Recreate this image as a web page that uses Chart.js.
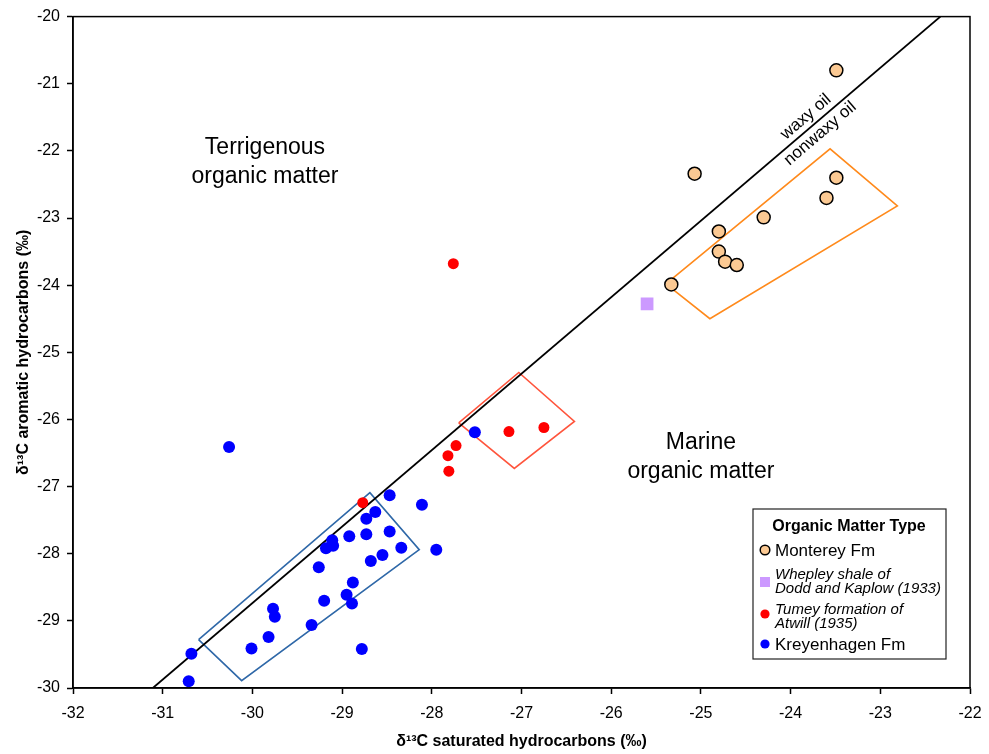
<!DOCTYPE html>
<html>
<head>
<meta charset="utf-8">
<script src="https://cdn.jsdelivr.net/npm/chart.js@4.4.0/dist/chart.umd.min.js"></script>
<style>
  html, body { margin: 0; padding: 0; background: #fff; }
  #wrap { width: 989px; height: 754px; }
</style>
</head>
<body>
<div id="wrap"><canvas id="isotopos"></canvas></div>
<script>
// [δ13C saturados, δ13C aromáticos] por muestra
const monterey = [[-23.49,-20.80],[-25.07,-22.34],[-23.49,-22.40],[-23.60,-22.70],[-24.30,-22.99],
  [-24.80,-23.20],[-24.80,-23.50],[-24.73,-23.65],[-24.60,-23.70],[-25.33,-23.99]];
const whepley = [[-25.60,-24.28]];
const tumey = [[-27.76,-23.68],[-28.77,-27.24],[-27.73,-26.39],[-27.82,-26.54],[-27.81,-26.77],
  [-27.14,-26.18],[-26.75,-26.12]];
const kreyenhagen = [[-30.26,-26.41],[-28.47,-27.13],[-28.11,-27.27],[-28.63,-27.38],[-28.73,-27.48],
  [-28.73,-27.71],[-28.47,-27.67],[-28.92,-27.74],[-29.11,-27.80],[-29.10,-27.88],[-29.18,-27.92],
  [-28.34,-27.91],[-27.95,-27.94],[-28.55,-28.02],[-28.68,-28.11],[-29.26,-28.20],[-28.88,-28.43],
  [-28.95,-28.61],[-29.20,-28.70],[-28.89,-28.74],[-29.77,-28.82],[-29.75,-28.94],[-29.34,-29.06],
  [-29.82,-29.24],[-30.01,-29.41],[-28.78,-29.42],[-30.68,-29.49],[-30.71,-29.90],[-27.52,-26.19]];

// envolventes de cada grupo
const envMonterey = [[-25.39,-23.98],[-23.56,-21.97],[-22.81,-22.82],[-24.90,-24.50]];
const envTumey = [[-27.70,-26.05],[-27.03,-25.30],[-26.41,-26.03],[-27.08,-26.73]];
const envKreyenhagen = [[-30.60,-29.28],[-28.69,-27.09],[-28.14,-27.94],[-30.12,-29.89]];

// recta waxy / nonwaxy (Sofer)
const soferLine = [[-31.11,-30],[-22.33,-20]];

const xTicks = [-32,-31,-30,-29,-28,-27,-26,-25,-24,-23,-22];
const yTicks = [-30,-29,-28,-27,-26,-25,-24,-23,-22,-21,-20];

const FUENTE = "'Liberation Sans', Arial, sans-serif";

const pts = a => a.map(([x, y]) => ({ x, y }));
const cerrado = a => pts(a.concat([a[0]]));

const linea = (data, color, width) => ({
  data, showLine: true, fill: false, borderColor: color, borderWidth: width,
  pointRadius: 0, order: 2, tension: 0
});

// marco completo del área de trazado
const marco = {
  id: 'marco',
  afterDatasetsDraw(chart) {
    const { ctx, chartArea: a } = chart;
    ctx.save();
    ctx.strokeStyle = '#000';
    ctx.lineWidth = 1.5;
    ctx.strokeRect(a.left, a.top, a.right - a.left, a.bottom - a.top);
    ctx.restore();
  }
};

// textos dentro del gráfico
const rotulos = {
  id: 'rotulos',
  afterDatasetsDraw(chart) {
    const { ctx, scales: { x, y } } = chart;
    ctx.save();
    ctx.fillStyle = '#000';
    ctx.textAlign = 'center';
    ctx.textBaseline = 'alphabetic';
    ctx.font = '23px ' + FUENTE;
    let px = x.getPixelForValue(-29.86), py = y.getPixelForValue(-22.04);
    ctx.fillText('Terrigenous', px, py);
    ctx.fillText('organic matter', px, py + 29);
    px = x.getPixelForValue(-25.0); py = y.getPixelForValue(-26.44);
    ctx.fillText('Marine', px, py);
    ctx.fillText('organic matter', px, py + 29);

    // etiquetas a lo largo de la recta
    const x0 = x.getPixelForValue(soferLine[0][0]), y0 = y.getPixelForValue(soferLine[0][1]);
    const x1 = x.getPixelForValue(soferLine[1][0]), y1 = y.getPixelForValue(soferLine[1][1]);
    const ang = Math.atan2(y1 - y0, x1 - x0);
    const t = (-23.75 - soferLine[0][0]) / (soferLine[1][0] - soferLine[0][0]);
    const bx = x0 + (x1 - x0) * t, by = y0 + (y1 - y0) * t;
    const nx = Math.sin(ang), ny = -Math.cos(ang);
    ctx.font = '17px ' + FUENTE;
    ctx.textBaseline = 'middle';
    [['waxy oil', 11], ['nonwaxy oil', -11]].forEach(([txt, d]) => {
      ctx.save();
      ctx.translate(bx + nx * d, by + ny * d);
      ctx.rotate(ang);
      ctx.fillText(txt, 0, 0);
      ctx.restore();
    });
    ctx.restore();
  }
};

// leyenda con etiquetas de varias líneas
const leyenda = {
  id: 'leyenda',
  afterDraw(chart) {
    const { ctx, chartArea: a } = chart;
    const ds = chart.data.datasets;
    const left = a.right - 217, top = a.bottom - 179, w = 193, h = 150;
    ctx.save();
    ctx.fillStyle = '#fff';
    ctx.fillRect(left, top, w, h);
    ctx.strokeStyle = '#222';
    ctx.lineWidth = 1.2;
    ctx.strokeRect(left, top, w, h);
    ctx.fillStyle = '#000';
    ctx.textAlign = 'center';
    ctx.font = 'bold 16px ' + FUENTE;
    ctx.fillText('Organic Matter Type', left + 96, top + 22);

    const items = [
      { ds: ds[0], lines: ['Monterey Fm'], font: '17px ', my: 41, base: [47] },
      { ds: ds[1], lines: ['Whepley shale of', 'Dodd and Kaplow (1933)'], font: 'italic 15px ', my: 73, base: [70, 84] },
      { ds: ds[2], lines: ['Tumey formation of', 'Atwill (1935)'], font: 'italic 15px ', my: 105, base: [105, 119] },
      { ds: ds[3], lines: ['Kreyenhagen Fm'], font: '17px ', my: 135, base: [141] }
    ];
    ctx.textAlign = 'left';
    items.forEach(it => {
      const cx = left + 12, cy = top + it.my;
      ctx.fillStyle = it.ds.backgroundColor;
      ctx.beginPath();
      if (it.ds.pointStyle === 'rect') {
        ctx.rect(cx - 5, cy - 5, 10, 10);
        ctx.fill();
      } else {
        ctx.arc(cx, cy, it.ds.borderWidth ? 4.8 : 4.6, 0, Math.PI * 2);
        ctx.fill();
        if (it.ds.borderWidth) {
          ctx.strokeStyle = it.ds.borderColor;
          ctx.lineWidth = 1.5;
          ctx.stroke();
        }
      }
      ctx.fillStyle = '#000';
      ctx.font = it.font + FUENTE;
      it.lines.forEach((l, i) => ctx.fillText(l, left + 22, top + it.base[i]));
    });
    ctx.restore();
  }
};

const ejeComun = {
  type: 'linear',
  grid: { display: true, drawOnChartArea: false, drawTicks: true, tickLength: 6, tickColor: '#000', tickWidth: 1.5 },
  border: { display: true, color: '#000', width: 1.5 },
  ticks: { color: '#000', font: { family: FUENTE, size: 16 }, callback: v => String(v) }
};

new Chart(document.getElementById('isotopos'), {
  type: 'scatter',
  data: {
    datasets: [
      { label: 'Monterey Fm', data: pts(monterey), backgroundColor: '#fbc993', borderColor: '#000',
        borderWidth: 1.5, pointRadius: 6.5, order: 0 },
      { label: 'Whepley shale of Dodd and Kaplow (1933)', data: pts(whepley), pointStyle: 'rect',
        backgroundColor: '#cc99ff', borderColor: '#cc99ff', borderWidth: 0, pointRadius: 9, order: 0 },
      { label: 'Tumey formation of Atwill (1935)', data: pts(tumey), backgroundColor: '#ff0000',
        borderColor: '#ff0000', borderWidth: 0, pointRadius: 5.5, order: 0 },
      { label: 'Kreyenhagen Fm', data: pts(kreyenhagen), backgroundColor: '#0000ff',
        borderColor: '#0000ff', borderWidth: 0, pointRadius: 6, order: 1 },
      linea(pts(soferLine), '#000', 1.8),
      linea(cerrado(envMonterey), '#ff8a1c', 1.6),
      linea(cerrado(envTumey), '#ff553d', 1.6),
      linea(cerrado(envKreyenhagen), '#2f68a8', 1.6)
    ]
  },
  options: {
    responsive: true,
    maintainAspectRatio: false,
    animation: false,
    events: [],
    layout: { padding: { top: 15, right: 19, left: 0, bottom: 0 } },
    plugins: { legend: { display: false }, tooltip: { enabled: false } },
    scales: {
      x: {
        ...ejeComun,
        min: -32, max: -22,
        ticks: { ...ejeComun.ticks, padding: 10 },
        afterBuildTicks: s => { s.ticks = xTicks.map(v => ({ value: v })); },
        afterFit: s => { s.height = 66; s.paddingLeft = 12; s.paddingRight = 12; },
        title: { display: true, text: 'δ¹³C saturated hydrocarbons (‰)', color: '#000',
          font: { family: FUENTE, size: 16, weight: 'bold' }, padding: { top: 0, bottom: 3 } }
      },
      y: {
        ...ejeComun,
        min: -30, max: -20,
        ticks: { ...ejeComun.ticks, padding: 7 },
        afterBuildTicks: s => { s.ticks = yTicks.map(v => ({ value: v })); },
        afterFit: s => { s.width = 73; },
        title: { display: true, text: 'δ¹³C aromatic hydrocarbons (‰)', color: '#000',
          font: { family: FUENTE, size: 16, weight: 'bold' }, padding: { top: 14, bottom: 0 } }
      }
    }
  },
  plugins: [marco, rotulos, leyenda]
});
</script>
</body>
</html>
